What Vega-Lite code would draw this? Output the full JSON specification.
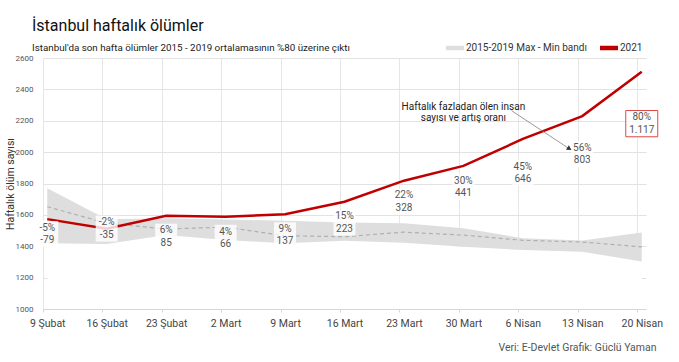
{
  "$schema": "https://vega.github.io/schema/vega-lite/v6.json",
  "width": 603,
  "height": 251,
  "autosize": {"type": "none"},
  "padding": {"left": 43, "top": 58, "right": 33, "bottom": 53},
  "background": "white",
  "config": {
    "font": "Roboto",
    "view": {"stroke": null},
    "locale": {"number": {"decimal": ",", "thousands": ".", "grouping": [3], "currency": ["", " ₺"], "minus": "-"}},
    "axisY": {"domain": false, "ticks": false, "format": "d", "labelFontSize": 8, "labelColor": "#555", "labelPadding": 10, "gridColor": "#e2e2e2", "tickCount": 8, "titleFontSize": 10.5, "titleFontWeight": "normal", "titleColor": "#333", "titleX": -33, "titleY": 125.5, "titleAngle": -90, "titleAlign": "center", "titleBaseline": "middle"}
  },
  "title": {
    "text": "İstanbul haftalık ölümler",
    "subtitle": "Istanbul'da son hafta ölümler 2015 - 2019 ortalamasının %80 üzerine çıktı",
    "anchor": "start", "frame": "group", "dx": -11, "dy": 23, "offset": 9,
    "fontSize": 16, "fontWeight": "normal", "color": "#111",
    "subtitleFontSize": 9.8, "subtitleColor": "#1a1a1a", "subtitlePadding": 9
  },
  "datasets": {
    "weeks": [
      {"date": "2021-02-09", "y2021": 1573, "avg": 1652, "min": 1419, "max": 1769, "excess": -79, "pct": -0.05},
      {"date": "2021-02-16", "y2021": 1512, "avg": 1547, "min": 1414, "max": 1572, "excess": -35, "pct": -0.02},
      {"date": "2021-02-23", "y2021": 1595, "avg": 1510, "min": 1472, "max": 1578, "excess": 85, "pct": 0.06},
      {"date": "2021-03-02", "y2021": 1588, "avg": 1522, "min": 1440, "max": 1570, "excess": 66, "pct": 0.04},
      {"date": "2021-03-09", "y2021": 1604, "avg": 1467, "min": 1419, "max": 1563, "excess": 137, "pct": 0.09},
      {"date": "2021-03-16", "y2021": 1684, "avg": 1461, "min": 1435, "max": 1552, "excess": 223, "pct": 0.15},
      {"date": "2021-03-23", "y2021": 1818, "avg": 1490, "min": 1423, "max": 1546, "excess": 328, "pct": 0.22},
      {"date": "2021-03-30", "y2021": 1912, "avg": 1471, "min": 1397, "max": 1514, "excess": 441, "pct": 0.30},
      {"date": "2021-04-06", "y2021": 2084, "avg": 1438, "min": 1376, "max": 1451, "excess": 646, "pct": 0.45},
      {"date": "2021-04-13", "y2021": 2230, "avg": 1427, "min": 1365, "max": 1436, "excess": 803, "pct": 0.56},
      {"date": "2021-04-20", "y2021": 2513, "avg": 1396, "min": 1302, "max": 1487, "excess": 1117, "pct": 0.80}
    ],
    "note": [
      {"date": "2021-03-30", "y": 2290, "text": ["Haftalık fazladan ölen insan", "sayısı ve artış oranı"]}
    ],
    "arrow": [
      {"date": "2021-04-04T16:20:00Z", "y": 2264, "date2": "2021-04-11T09:40:00Z", "y2": 2024}
    ],
    "arrowTip": [
      {"date": "2021-04-11T09:40:00Z", "y": 2024}
    ]
  },
  "data": {"name": "weeks"},
  "encoding": {
    "x": {
      "field": "date", "type": "temporal",
      "title": "Veri: E-Devlet Grafik: Güclü Yaman",
      "scale": {"type": "utc", "domain": [
        {"year": 2021, "month": "feb", "date": 8, "hours": 12, "utc": true},
        {"year": 2021, "month": "apr", "date": 20, "hours": 12, "utc": true}
      ]},
      "axis": {
        "values": [
          {"year": 2021, "month": "feb", "date": 9, "utc": true},
          {"year": 2021, "month": "feb", "date": 16, "utc": true},
          {"year": 2021, "month": "feb", "date": 23, "utc": true},
          {"year": 2021, "month": "mar", "date": 2, "utc": true},
          {"year": 2021, "month": "mar", "date": 9, "utc": true},
          {"year": 2021, "month": "mar", "date": 16, "utc": true},
          {"year": 2021, "month": "mar", "date": 23, "utc": true},
          {"year": 2021, "month": "mar", "date": 30, "utc": true},
          {"year": 2021, "month": "apr", "date": 6, "utc": true},
          {"year": 2021, "month": "apr", "date": 13, "utc": true},
          {"year": 2021, "month": "apr", "date": 20, "utc": true}
        ],
        "labelExpr": "utcdate(datum.value) + ' ' + ['Ocak', 'Şubat', 'Mart', 'Nisan'][utcmonth(datum.value)]",
        "tickOffset": -4.5, "labelOffset": 4.5,
        "grid": true, "gridColor": "#e6e6e6",
        "domainColor": "#d6d6d6", "tickColor": "#d6d6d6", "tickSize": 3,
        "labelFontSize": 10.5, "labelColor": "#444", "labelPadding": 6, "labelFlush": false, "labelOverlap": false,
        "titleX": 613, "titleY": 38, "titleAlign": "right", "titleBaseline": "middle",
        "titleFontSize": 10.5, "titleFontWeight": "normal", "titleColor": "#555"
      }
    }
  },
  "layer": [
    {
      "mark": {"type": "area", "fill": "white", "opacity": 1},
      "encoding": {
        "y": {"field": "min", "type": "quantitative", "scale": {"domain": [1000, 2600]}, "title": "Haftalık ölüm sayısı"},
        "y2": {"datum": 1000}
      }
    },
    {
      "mark": {"type": "area", "opacity": 1},
      "encoding": {
        "y": {"field": "max", "type": "quantitative", "scale": {"domain": [1000, 2600]}, "title": "Haftalık ölüm sayısı"},
        "y2": {"field": "min"},
        "color": {
          "datum": "2015-2019 Max - Min bandı", "type": "nominal",
          "scale": {"domain": ["2015-2019 Max - Min bandı", "2021"], "range": ["#dedede", "#c00000"]},
          "legend": {
            "orient": "none", "legendX": 403, "legendY": -19, "direction": "horizontal", "title": null,
            "symbolType": "M-1,-0.25L1,-0.25L1,0.25L-1,0.25Z", "symbolSize": 324, "symbolStrokeWidth": 0,
            "labelFontSize": 10, "labelColor": "#333", "columnPadding": 13, "labelOffset": 2,
            "encode": {"symbols": {"update": {"fill": {"scale": "color", "field": "value"}, "fillOpacity": {"value": 1}, "strokeWidth": {"value": 0}}}}
          }
        }
      }
    },
    {
      "mark": {"type": "line", "stroke": "#b0b0b0", "strokeDash": [4, 3], "strokeWidth": 1.2},
      "encoding": {
        "y": {"field": "avg", "type": "quantitative", "scale": {"domain": [1000, 2600]}, "title": "Haftalık ölüm sayısı"}
      }
    },
    {
      "mark": {"type": "line", "strokeWidth": 2.5},
      "encoding": {
        "y": {"field": "y2021", "type": "quantitative", "scale": {"domain": [1000, 2600]}, "title": "Haftalık ölüm sayısı"},
        "color": {"datum": "2021", "type": "nominal"}
      }
    },
    {
      "mark": {"type": "point", "filled": true, "fill": "white", "fillOpacity": 0.8, "strokeOpacity": 1, "strokeWidth": 1},
      "encoding": {
        "y": {"field": "y2021", "type": "quantitative", "scale": {"domain": [1000, 2600]}, "title": "Haftalık ölüm sayısı"},
        "yOffset": {"value": {"expr": "((utcmonth(datum.date)*100+utcdate(datum.date))==109?15:(utcmonth(datum.date)*100+utcdate(datum.date))==116?0:(utcmonth(datum.date)*100+utcdate(datum.date))==306?34:(utcmonth(datum.date)*100+utcdate(datum.date))==313?38:(utcmonth(datum.date)*100+utcdate(datum.date))==320?52:21)"}},
        "shape": {"condition": {"test": "utcmonth(datum.date)==3 && utcdate(datum.date)==20", "value": "M-1,-0.82L1,-0.82L1,0.82L-1,0.82Z"}, "value": "M-1,-1.18L1,-1.18L1,1.18L-1,1.18Z"},
        "size": {"condition": {"test": "utcmonth(datum.date)==3 && utcdate(datum.date)==20", "value": 1024}, "value": 484},
        "stroke": {"condition": {"test": "utcmonth(datum.date)==3 && utcdate(datum.date)==20", "value": "#e04848"}, "value": null}
      }
    },
    {
      "mark": {"type": "text", "fontSize": 10, "color": "#555", "baseline": "middle",
        "dy": {"expr": "((utcmonth(datum.date)*100+utcdate(datum.date))==109?15:(utcmonth(datum.date)*100+utcdate(datum.date))==116?0:(utcmonth(datum.date)*100+utcdate(datum.date))==306?34:(utcmonth(datum.date)*100+utcdate(datum.date))==313?38:(utcmonth(datum.date)*100+utcdate(datum.date))==320?52:21) - 6.25"}},
      "encoding": {
        "y": {"field": "y2021", "type": "quantitative", "scale": {"domain": [1000, 2600]}, "title": "Haftalık ölüm sayısı"},
        "text": {"field": "pct", "type": "quantitative", "format": ".0%"}
      }
    },
    {
      "mark": {"type": "text", "fontSize": 10, "color": "#555", "baseline": "middle",
        "dy": {"expr": "((utcmonth(datum.date)*100+utcdate(datum.date))==109?15:(utcmonth(datum.date)*100+utcdate(datum.date))==116?0:(utcmonth(datum.date)*100+utcdate(datum.date))==306?34:(utcmonth(datum.date)*100+utcdate(datum.date))==313?38:(utcmonth(datum.date)*100+utcdate(datum.date))==320?52:21) + 6.25"}},
      "encoding": {
        "y": {"field": "y2021", "type": "quantitative", "scale": {"domain": [1000, 2600]}, "title": "Haftalık ölüm sayısı"},
        "text": {"field": "excess", "type": "quantitative", "format": ",d"}
      }
    },
    {
      "data": {"name": "note"},
      "mark": {"type": "text", "fontSize": 10, "color": "#222", "baseline": "middle", "lineHeight": 11.6},
      "encoding": {
        "y": {"field": "y", "type": "quantitative", "scale": {"domain": [1000, 2600]}, "title": "Haftalık ölüm sayısı"},
        "text": {"field": "text"}
      }
    },
    {
      "data": {"name": "arrow"},
      "mark": {"type": "rule", "color": "#808080", "strokeWidth": 0.8},
      "encoding": {
        "y": {"field": "y", "type": "quantitative", "scale": {"domain": [1000, 2600]}, "title": "Haftalık ölüm sayısı"},
        "x2": {"field": "date2"},
        "y2": {"field": "y2"}
      }
    },
    {
      "data": {"name": "arrowTip"},
      "mark": {"type": "point", "shape": "triangle", "filled": true, "color": "#333", "angle": 123, "size": 30, "opacity": 1},
      "encoding": {
        "y": {"field": "y", "type": "quantitative", "scale": {"domain": [1000, 2600]}, "title": "Haftalık ölüm sayısı"}
      }
    }
  ]
}
